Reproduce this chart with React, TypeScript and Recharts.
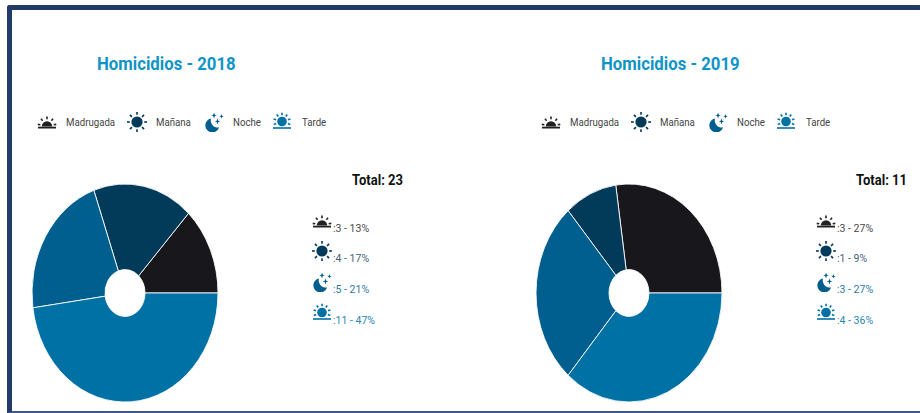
import { PieChart, Pie, Cell } from 'recharts';

const periods = ['Madrugada', 'Mañana', 'Noche', 'Tarde'];
const values2018 = [3, 4, 5, 11];
const values2019 = [3, 1, 3, 4];
const percents2018 = [13, 17, 21, 47];
const percents2019 = [27, 9, 27, 36];
const colors = ['#18171b', '#023a5a', '#005f8e', '#0071a4'];
const iconColors = ['#222222', '#023a5a', '#005f8e', '#0071a4'];
const textColors = ['#4a4a4a', '#3f6379', '#2f7aa3', '#2a86b0'];

const legendIconX = [37, 127, 204, 272];
const legendTextX = [66, 156, 233, 302];
const statY = [228, 258, 289, 320];
const font = 'Roboto, Arial, sans-serif';

function Rays({ cx, cy, r1, r2, color, from, to, count }: any) {
  const rays = [];
  for (let i = 0; i < count; i++) {
    const a = ((from + ((to - from) * i) / (count - 1 || 1)) * Math.PI) / 180;
    rays.push(
      <line
        key={i}
        x1={cx + Math.cos(a) * r1}
        y1={cy - Math.sin(a) * r1}
        x2={cx + Math.cos(a) * r2}
        y2={cy - Math.sin(a) * r2}
        stroke={color}
        strokeWidth={1.6}
      />
    );
  }
  return <g>{rays}</g>;
}

function PeriodIcon({ kind, color }: { kind: number; color: string }) {
  return (
    <svg width={20} height={20} viewBox="0 0 20 20" style={{ display: 'block' }}>
      {kind === 1 && (
        <g>
          <circle cx={10} cy={10} r={5.6} fill={color} />
          <Rays cx={10} cy={10} r1={7.2} r2={10} color={color} from={0} to={315} count={8} />
        </g>
      )}
      {kind === 2 && (
        <g fill={color}>
          <path d="M7 6.5 A7 7 0 1 0 15 15.5 A7.2 7.2 0 0 1 7 6.5 Z" />
          <path d="M10 0.5 L10.8 2.7 L12.8 3.4 L10.8 4.1 L10 6.4 L9.2 4.1 L7.2 3.4 L9.2 2.7 Z" />
          <path d="M13.5 6.5 L14.3 8.7 L16.3 9.4 L14.3 10.1 L13.5 12.4 L12.7 10.1 L10.7 9.4 L12.7 8.7 Z" />
          <path d="M17.5 2 L18.1 3.7 L19.7 4.3 L18.1 4.9 L17.5 6.6 L16.9 4.9 L15.3 4.3 L16.9 3.7 Z" />
        </g>
      )}
      {kind === 0 && (
        <g>
          <path d="M4.8 14.5 A5.2 5.2 0 0 1 15.2 14.5 Z" fill={color} />
          <Rays cx={10} cy={14} r1={6.8} r2={9.4} color={color} from={10} to={170} count={5} />
          <line x1={1} x2={19} y1={15.6} y2={15.6} stroke={color} strokeWidth={1.8} />
        </g>
      )}
      {kind === 3 && (
        <g>
          <circle cx={10} cy={9.5} r={4.8} fill={color} />
          <Rays cx={10} cy={9.5} r1={6.2} r2={8.8} color={color} from={-20} to={200} count={7} />
          <line x1={1} x2={19} y1={16} y2={16} stroke={color} strokeWidth={1.6} />
        </g>
      )}
    </svg>
  );
}

function Panel({ year, values, percents, total, dx, totalX }: any) {
  const data = periods.map((name, i) => ({ name, value: values[i] }));
  return (
    <>
      <div
        style={{
          position: 'absolute',
          left: 97 + dx,
          top: 53,
          fontFamily: font,
          fontSize: 18,
          fontWeight: 700,
          color: '#0f94c8',
          lineHeight: '22px',
          whiteSpace: 'nowrap',
          transform: 'scaleX(0.93)',
          transformOrigin: '0 50%',
        }}
      >
        Homicidios - {year}
      </div>

      {periods.map((name, i) => (
        <div key={name}>
          <div style={{ position: 'absolute', left: legendIconX[i] + dx, top: 112 }}>
            <PeriodIcon kind={i} color={iconColors[i]} />
          </div>
          <div
            style={{
              position: 'absolute',
              left: legendTextX[i] + dx,
              top: 116,
              fontFamily: font,
              fontSize: 10.5,
              lineHeight: '14px',
              color: '#444444',
              whiteSpace: 'nowrap',
              transform: 'scaleX(0.92)',
              transformOrigin: '0 50%',
            }}
          >
            {name}
          </div>
        </div>
      ))}

      <div
        style={{
          position: 'absolute',
          left: 25 + dx,
          top: 193,
          width: 200,
          height: 200,
          transform: 'scaleY(1.172)',
          transformOrigin: '50% 50%',
        }}
      >
        <PieChart width={200} height={200} margin={{ top: 0, right: 0, bottom: 0, left: 0 }}>
          <Pie
            data={data}
            dataKey="value"
            nameKey="name"
            cx={100}
            cy={100}
            innerRadius={20}
            outerRadius={93}
            startAngle={0}
            endAngle={360}
            stroke="#ffffff"
            strokeWidth={0.8}
            isAnimationActive={false}
          >
            {data.map((d, i) => (
              <Cell key={d.name} fill={colors[i]} />
            ))}
          </Pie>
        </PieChart>
      </div>

      <div
        style={{
          position: 'absolute',
          left: totalX,
          top: 171,
          fontFamily: font,
          fontSize: 14,
          fontWeight: 700,
          lineHeight: '18px',
          color: '#111111',
          whiteSpace: 'nowrap',
          transform: 'scaleX(0.93)',
          transformOrigin: '0 50%',
        }}
      >
        Total: {total}
      </div>

      {periods.map((name, i) => (
        <div key={name + '-stat'}>
          <div style={{ position: 'absolute', left: 312 + dx, top: statY[i] - 17 }}>
            <PeriodIcon kind={i} color={iconColors[i]} />
          </div>
          <div
            style={{
              position: 'absolute',
              left: 333 + dx,
              top: statY[i] - 6,
              fontFamily: font,
              fontSize: 10.5,
              lineHeight: '14px',
              color: textColors[i],
              whiteSpace: 'nowrap',
            }}
          >
            :{values[i]} - {percents[i]}%
          </div>
        </div>
      ))}
    </>
  );
}

export default function App() {
  return (
    <div style={{ position: 'absolute', left: 0, top: 0, width: 920, height: 413, overflow: 'hidden', background: '#fff' }}>
      <div
        style={{
          position: 'absolute',
          left: 7,
          top: 5,
          width: 940,
          height: 408,
          borderLeft: '5px solid #213a68',
          borderTop: '5px solid #213a68',
          borderBottom: '2px solid #3d5a8a',
          borderTopLeftRadius: 3,
          boxSizing: 'border-box',
        }}
      />
      <Panel year={2018} values={values2018} percents={percents2018} total={23} dx={0} totalX={352} />
      <Panel year={2019} values={values2019} percents={percents2019} total={11} dx={504} totalX={856} />
    </div>
  );
}
